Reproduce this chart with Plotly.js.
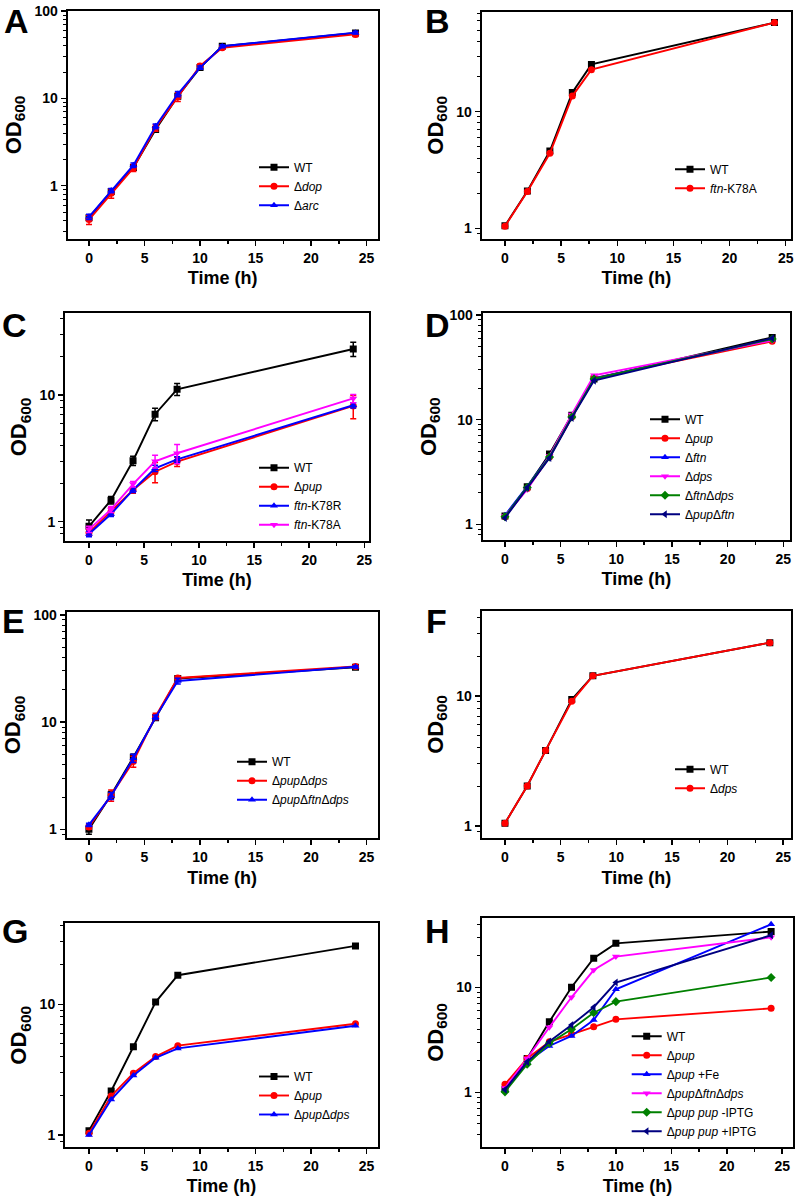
<!DOCTYPE html>
<html>
<head>
<meta charset="utf-8">
<script src="https://cdn.plot.ly/plotly-3.0.1.min.js"></script>
<style>html,body{margin:0;padding:0;background:#fff;}#chart{width:796px;height:1196px;}</style>
</head>
<body>
<div id="chart"></div>
<script>
// ---------------- DATA ----------------
// Panel A
const timeA = [0, 2, 4, 6, 8, 10, 12, 24];
const aWT  = [0.43, 0.86, 1.62, 4.4, 10.6, 22.5, 39.5, 56];
const aDop = [0.41, 0.82, 1.6, 4.6, 10.4, 23.5, 38, 54];
const aArc = [0.44, 0.88, 1.72, 4.8, 11.2, 22.5, 39.5, 56.5];
const aWTErr  = [0.03, 0.06, 0.12, 0.3, 0.7, 1.2, 2, 2.5];
const aDopErr = [0.05, 0.1, 0.15, 0.4, 1.2, 1.2, 1.5, 3];
const aArcErr = [0.03, 0.05, 0.1, 0.3, 0.8, 1.0, 1.5, 2];
const namesA = ['WT', 'Δ<i>dop</i>', 'Δ<i>arc</i>'];

// Panel B
const timeB = [0, 2, 4, 6, 7.7, 24];
const bWT   = [1.05, 2.09, 4.6, 14.6, 25.4, 58];
const bK78A = [1.04, 2.07, 4.4, 13.6, 22.9, 58];
const namesB = ['WT', '<i>ftn</i>-K78A'];

// Panel C
const timeC = [0, 2, 4, 6, 8, 24];
const cWT   = [0.92, 1.48, 3.03, 7.05, 11.1, 23.1];
const cPup  = [0.82, 1.2, 1.78, 2.48, 2.98, 8.2];
const cK78R = [0.8, 1.15, 1.78, 2.64, 3.1, 8.3];
const cK78A = [0.87, 1.25, 1.98, 3.0, 3.47, 9.4];
const cWTErr   = [0.11, 0.1, 0.25, 0.8, 1.2, 3];
const cPupErr  = [0.05, 0.08, 0.1, 0.45, 0.25, 1.7];
const cK78RErr = [0.04, 0.05, 0.08, 0.15, 0.15, 0.4];
const cK78AErr = [0.05, 0.07, 0.1, 0.35, 0.6, 0.7];
const namesC = ['WT', 'Δ<i>pup</i>', '<i>ftn</i>-K78R', '<i>ftn</i>-K78A'];

// Panel D
const timeD = [0, 2, 4, 6, 8, 24];
const dWT     = [1.2, 2.28, 4.7, 11.0, 24.5, 61];
const dPup    = [1.18, 2.2, 4.4, 10.6, 25, 56];
const dFtn    = [1.22, 2.3, 4.5, 10.8, 24.8, 58];
const dDps    = [1.2, 2.15, 4.5, 11.2, 26.5, 57];
const dFtnDps = [1.18, 2.25, 4.4, 10.6, 24.5, 59];
const dPupFtn = [1.15, 2.25, 4.3, 10.4, 23.6, 60];
const namesD = ['WT', 'Δ<i>pup</i>', 'Δ<i>ftn</i>', 'Δ<i>dps</i>', 'Δ<i>ftn</i>Δ<i>dps</i>', 'Δ<i>pup</i>Δ<i>ftn</i>'];

// Panel E
const timeE = [0, 2, 4, 6, 8, 24];
const eWT        = [1.0, 2.1, 4.7, 11.0, 25.5, 32.5];
const ePupDps    = [1.05, 2.08, 4.3, 11.3, 25.8, 33];
const ePupFtnDps = [1.1, 2.05, 4.6, 11.1, 24.2, 32.8];
const eWTErr        = [0.1, 0.15, 0.3, 0.5, 1, 1];
const ePupDpsErr    = [0.05, 0.25, 0.5, 0.8, 0.8, 1];
const ePupFtnDpsErr = [0.04, 0.15, 0.4, 0.5, 1.5, 0.8];
const namesE = ['WT', 'Δ<i>pup</i>Δ<i>dps</i>', 'Δ<i>pup</i>Δ<i>ftn</i>Δ<i>dps</i>'];

// Panel F
const timeF = [0, 2, 3.65, 6, 7.9, 23.8];
const fWT  = [1.05, 2.03, 3.8, 9.4, 14.3, 25.7];
const fDps = [1.05, 2.03, 3.8, 9.1, 14.3, 25.7];
const namesF = ['WT', 'Δ<i>dps</i>'];

// Panel G
const timeG = [0, 2, 4, 6, 8, 24];
const gWT     = [1.08, 2.17, 4.74, 10.4, 16.7, 28];
const gPup    = [1.03, 1.99, 2.97, 3.98, 4.83, 7.1];
const gPupDps = [1.0, 1.87, 2.85, 3.9, 4.6, 6.85];
const namesG = ['WT', 'Δ<i>pup</i>', 'Δ<i>pup</i>Δ<i>dps</i>'];

// Panel H
const timeH = [0, 2, 4, 6, 8, 10, 24];
const hWT        = [1.07, 2.1, 4.7, 10.0, 18.9, 26.2, 33.9];
const hPup       = [1.19, 2.1, 3.03, 3.59, 4.2, 4.95, 6.3];
const hPupFe     = [1.05, 1.95, 2.76, 3.44, 4.88, 9.57, 39.8];
const hPupFtnDps = [1.1, 2.1, 4.16, 8.03, 14.6, 19.6, 29.9];
const hIPTGminus = [1.01, 1.85, 2.93, 3.98, 5.73, 7.3, 12.4];
const hIPTGplus  = [1.06, 1.95, 3.05, 4.37, 6.46, 11.1, 31.3];
const namesH = ['WT', 'Δ<i>pup</i>', 'Δ<i>pup</i> +Fe', 'Δ<i>pup</i>Δ<i>ftn</i>Δ<i>dps</i>', 'Δ<i>pup pup</i> -IPTG', 'Δ<i>pup pup</i> +IPTG'];

const panelLetters = ['A', 'B', 'C', 'D', 'E', 'F', 'G', 'H'];

// ---------------- STYLE / LAYOUT ----------------
const W = 796, H = 1196;
const FONT = 'Liberation Sans, Arial, Helvetica, sans-serif';
const COL = {black: '#000000', red: '#ff0000', blue: '#0000ff', magenta: '#ff00ff', green: '#008000', navy: '#000080'};
const SYM = {black: 'square', red: 'circle', blue: 'triangle-up', magenta: 'triangle-down', green: 'diamond', navy: 'triangle-left'};
const xp = v => v / W;
const yp = v => 1 - v / H;

// pixel boxes: [left, top, right, bottom], x range, y log range
const boxes = [
  {b: [67.7, 11, 377.7, 239],     xr: [-1.92, 26.0], yr: [-0.61, 2.0],   leg: [254, 186.3], let: [1.5, 0]},
  {b: [481.7, 11.7, 791, 239],    xr: [-2.07, 25.47], yr: [-0.092, 1.857], leg: [670, 178.8], let: [423, 0]},
  {b: [65, 313.3, 369, 540.7],    xr: [-2.18, 25.43], yr: [-0.15, 1.645], leg: [254, 496.3], let: [0, 304]},
  {b: [482.7, 313.3, 790, 540],   xr: [-2.0, 25.6],  yr: [-0.15, 2.016], leg: [645, 466.8], let: [423, 304]},
  {b: [66.7, 611.7, 377.7, 838.3],xr: [-2.0, 26.0],  yr: [-0.084, 2.03], leg: [232, 780.8], let: [0, 600]},
  {b: [481.7, 610.7, 791, 838.3], xr: [-2.09, 25.7], yr: [-0.095, 1.656], leg: [670, 778.7], let: [424, 600]},
  {b: [65, 923.3, 377.7, 1147.3], xr: [-2.16, 26.0], yr: [-0.094, 1.62], leg: [254, 1095.5], let: [0, 910]},
  {b: [481.7, 918.3, 793.3, 1146.7], xr: [-2.1, 26.0], yr: [-0.518, 1.657], leg: [626.7, 1083.7], let: [423, 910]}
];

const panels = [
  {t: timeA, s: [[aWT, 'black', aWTErr], [aDop, 'red', aDopErr], [aArc, 'blue', aArcErr]], n: namesA},
  {t: timeB, s: [[bWT, 'black'], [bK78A, 'red']], n: namesB},
  {t: timeC, s: [[cWT, 'black', cWTErr], [cPup, 'red', cPupErr], [cK78R, 'blue', cK78RErr], [cK78A, 'magenta', cK78AErr]], n: namesC},
  {t: timeD, s: [[dWT, 'black'], [dPup, 'red'], [dFtn, 'blue'], [dDps, 'magenta'], [dFtnDps, 'green'], [dPupFtn, 'navy']], n: namesD},
  {t: timeE, s: [[eWT, 'black', eWTErr], [ePupDps, 'red', ePupDpsErr], [ePupFtnDps, 'blue', ePupFtnDpsErr]], n: namesE},
  {t: timeF, s: [[fWT, 'black'], [fDps, 'red']], n: namesF},
  {t: timeG, s: [[gWT, 'black'], [gPup, 'red'], [gPupDps, 'blue']], n: namesG},
  {t: timeH, s: [[hWT, 'black'], [hPup, 'red'], [hPupFe, 'blue'], [hPupFtnDps, 'magenta'], [hIPTGminus, 'green'], [hIPTGplus, 'navy']], n: namesH}
];

const traces = [];
const layout = {
  width: W, height: H,
  margin: {l: 0, r: 0, t: 0, b: 0},
  paper_bgcolor: '#ffffff', plot_bgcolor: '#ffffff',
  font: {family: FONT, color: '#000'},
  annotations: []
};

panels.forEach((p, i) => {
  const k = i + 1;
  const xa = 'x' + (k === 1 ? '' : k), ya = 'y' + (k === 1 ? '' : k);
  const lg = 'legend' + (k === 1 ? '' : k);
  const bx = boxes[i];
  p.s.forEach((ser, j) => {
    const [vals, c, err] = ser;
    const tr = {
      type: 'scatter', mode: 'lines+markers',
      x: p.t, y: vals, name: p.n[j],
      xaxis: xa, yaxis: ya, legend: lg,
      line: {color: COL[c], width: 1.9},
      marker: {color: COL[c], symbol: SYM[c], size: 7}
    };
    if (err) tr.error_y = {type: 'data', array: err, visible: true, color: COL[c], thickness: 1.5, width: 3};
    traces.push(tr);
  });
  const [L, T, R, B] = bx.b;
  layout['xaxis' + (k === 1 ? '' : k)] = {
    domain: [xp(L), xp(R)], anchor: ya, range: bx.xr,
    showline: true, mirror: true, linewidth: 2, linecolor: '#000',
    ticks: 'outside', ticklen: 5, tickwidth: 1.5, tickcolor: '#000',
    tick0: 0, dtick: 5,
    minor: {tick0: 0, dtick: 2.5, ticks: 'outside', ticklen: 3, tickwidth: 1.5, tickcolor: '#000'},
    showgrid: false, zeroline: false,
    tickfont: {family: FONT, size: 14, weight: 'bold', color: '#000'},
    title: {text: 'Time (h)', font: {family: FONT, size: 18, weight: 'bold', color: '#000'}, standoff: 7}
  };
  layout['yaxis' + (k === 1 ? '' : k)] = {
    domain: [yp(B), yp(T)], anchor: xa, type: 'log', range: bx.yr,
    showline: true, mirror: true, linewidth: 2, linecolor: '#000',
    ticks: 'outside', ticklen: 5, tickwidth: 1.5, tickcolor: '#000',
    dtick: 1,
    minor: {dtick: 'D1', ticks: 'outside', ticklen: 3, tickwidth: 1, tickcolor: '#000'},
    showgrid: false, zeroline: false,
    tickfont: {family: FONT, size: 14, weight: 'bold', color: '#000'},
    title: {text: 'OD<sub>600</sub>', font: {family: FONT, size: 22, weight: 'bold', color: '#000'}, standoff: 7}
  };
  layout[lg] = {
    x: xp(bx.leg[0]), y: yp(bx.leg[1]), xanchor: 'left', yanchor: 'middle',
    xref: 'paper', yref: 'paper',
    bgcolor: 'rgba(0,0,0,0)', borderwidth: 0,
    font: {family: FONT, size: 12, color: '#000'},
    itemwidth: 30, tracegroupgap: 0
  };
  layout.annotations.push({
    text: panelLetters[i], xref: 'paper', yref: 'paper',
    x: xp(bx.let[0]), y: yp(bx.let[1]), xanchor: 'left', yanchor: 'top',
    showarrow: false, font: {family: FONT, size: 34, weight: 'bold', color: '#000'}
  });
});

Plotly.newPlot('chart', traces, layout, {displayModeBar: false, staticPlot: true});
</script>
</body>
</html>
